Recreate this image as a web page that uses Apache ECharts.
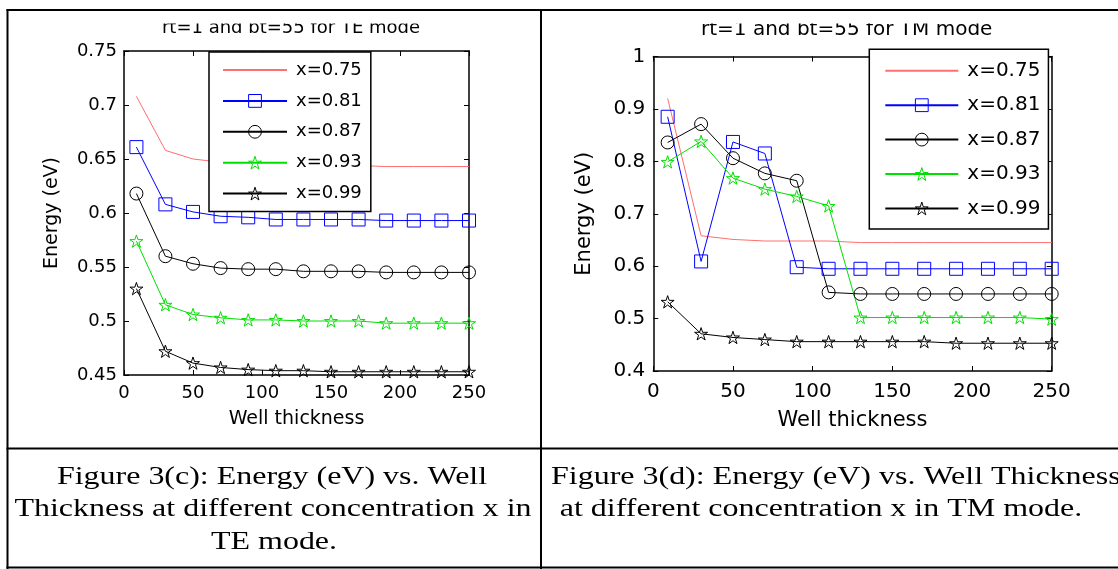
<!DOCTYPE html>
<html><head><meta charset="utf-8">
<script src="https://cdn.jsdelivr.net/npm/echarts@6/dist/echarts.min.js"></script>
<style>html,body{margin:0;padding:0;background:#fff}#c{width:1118px;height:569px}</style>
</head><body><div id="c"></div>
<script>
// ---------------- data ----------------
const wellThickness = [9, 30, 50, 70, 90, 110, 130, 150, 170, 190, 210, 230, 250];
const seriesNames = ['x=0.75', 'x=0.81', 'x=0.87', 'x=0.93', 'x=0.99'];

// TE mode (Figure 3(c))
const teX075 = [0.708, 0.658, 0.650, 0.647, 0.646, 0.645, 0.644, 0.644, 0.644, 0.643, 0.643, 0.643, 0.643];
const teX081 = [0.661, 0.608, 0.601, 0.597, 0.596, 0.594, 0.594, 0.594, 0.594, 0.593, 0.593, 0.593, 0.593];
const teX087 = [0.618, 0.560, 0.553, 0.549, 0.548, 0.548, 0.546, 0.546, 0.546, 0.545, 0.545, 0.545, 0.545];
const teX093 = [0.574, 0.515, 0.506, 0.503, 0.501, 0.501, 0.500, 0.500, 0.500, 0.498, 0.498, 0.498, 0.498];
const teX099 = [0.530, 0.472, 0.461, 0.457, 0.455, 0.454, 0.454, 0.453, 0.453, 0.453, 0.453, 0.453, 0.453];

// TM mode (Figure 3(d))
const tmX075 = [0.920, 0.658, 0.651, 0.648, 0.648, 0.648, 0.645, 0.645, 0.645, 0.645, 0.645, 0.645, 0.645];
const tmX081 = [0.885, 0.609, 0.837, 0.815, 0.598, 0.595, 0.595, 0.595, 0.595, 0.595, 0.595, 0.595, 0.595];
const tmX087 = [0.836, 0.871, 0.806, 0.777, 0.763, 0.550, 0.547, 0.547, 0.547, 0.547, 0.547, 0.547, 0.547];
const tmX093 = [0.799, 0.838, 0.768, 0.747, 0.733, 0.715, 0.502, 0.502, 0.502, 0.502, 0.502, 0.502, 0.499];
const tmX099 = [0.532, 0.471, 0.464, 0.460, 0.456, 0.456, 0.456, 0.456, 0.456, 0.453, 0.453, 0.453, 0.453];

// tick labels
const xTicks = [0, 50, 100, 150, 200, 250];
const teYTicks = [0.45, 0.5, 0.55, 0.6, 0.65, 0.7, 0.75];
const tmYTicks = [0.4, 0.5, 0.6, 0.7, 0.8, 0.9, 1];

// texts
const chartTitles = ['rt=1 and bt=55 for TE mode', 'rt=1 and bt=55 for TM mode'];
const xAxisName = 'Well thickness';
const yAxisName = 'Energy (eV)';
const captionTE = ['Figure 3(c): Energy (eV) vs. Well', 'Thickness at different concentration x in', 'TE mode.'];
const captionTM = ['Figure 3(d): Energy (eV) vs. Well Thickness', 'at different concentration x in TM mode.'];

// ---------------- styles ----------------
const SANS = '"DejaVu Sans"';
const SERIF = '"Liberation Serif"';
const CLEAR = 'rgba(0,0,0,0)';
const STAR = 'path://M50,0L61.23,34.55L97.55,34.55L68.16,55.9L79.39,90.45L50,69.1L20.61,90.45L31.84,55.9L2.45,34.55L38.77,34.55Z';
const seriesStyles = [
  { color: '#ff6f6f', symbol: 'none', size: 0, border: CLEAR },
  { color: '#0000ff', symbol: 'rect', size: 13 },
  { color: '#000000', symbol: 'circle', size: 13 },
  { color: '#00e000', symbol: STAR, size: 13 },
  { color: '#000000', symbol: STAR, size: 13 }
];

function buildSeries(valueSets, axisIdx) {
  return valueSets.map((vals, i) => {
    const st = seriesStyles[i];
    return {
      type: 'line', name: seriesNames[i],
      xAxisIndex: axisIdx, yAxisIndex: axisIdx,
      data: wellThickness.map((x, j) => [x, vals[j]]),
      symbol: st.symbol, symbolSize: st.size, symbolKeepAspect: true,
      showSymbol: st.symbol !== 'none',
      lineStyle: { color: st.color, width: 1 },
      itemStyle: { color: CLEAR, borderColor: st.border || st.color, borderWidth: 1 },
      emphasis: { disabled: true },
      clip: false, animation: false, silent: true
    };
  });
}

function fmt(v) { return String(+v.toFixed(2)); }

function axisPair(gridIndex, ticks, cfg) {
  const base = {
    gridIndex, type: 'value',
    min: ticks[0], max: ticks[ticks.length - 1], interval: +(ticks[1] - ticks[0]).toFixed(4),
    axisLine: { show: true, onZero: false, lineStyle: { color: '#000', width: 1.5 } },
    axisTick: { show: true, inside: true, length: 5, lineStyle: { color: '#000', width: 1 } },
    splitLine: { show: false }
  };
  const main = Object.assign({}, base, {
    position: cfg.mainPos,
    name: cfg.name, nameLocation: 'middle', nameGap: cfg.nameGap,
    nameRotate: cfg.nameRotate || 0,
    nameTextStyle: { fontFamily: SANS, fontSize: cfg.nameSize, color: '#000' },
    axisLabel: { fontFamily: SANS, fontSize: cfg.labelSize, color: '#000', margin: cfg.margin, formatter: fmt }
  });
  const second = Object.assign({}, base, { position: cfg.secPos, axisLabel: { show: false } });
  return [main, second];
}

const tePlot = { left: 124, top: 51, width: 345, height: 324 };
const tmPlot = { left: 653.3, top: 56.5, width: 398.4, height: 314.5 };

const xAxes = [
  ...axisPair(0, xTicks, { mainPos: 'bottom', secPos: 'top', name: xAxisName, nameGap: 35, nameSize: 19, labelSize: 18, margin: 9 }),
  ...axisPair(1, xTicks, { mainPos: 'bottom', secPos: 'top', name: xAxisName, nameGap: 39, nameSize: 21, labelSize: 20, margin: 11 })
];
const yAxes = [
  ...axisPair(0, teYTicks, { mainPos: 'left', secPos: 'right', name: yAxisName, nameGap: 62, nameRotate: 90, nameSize: 19, labelSize: 18, margin: 7 }),
  ...axisPair(1, tmYTicks, { mainPos: 'left', secPos: 'right', name: yAxisName, nameGap: 58, nameRotate: 90, nameSize: 21, labelSize: 20, margin: 8 })
];
// series use axes 0 (TE) and 2 (TM)
const teSeries = buildSeries([teX075, teX081, teX087, teX093, teX099], 0);
const tmSeries = buildSeries([tmX075, tmX081, tmX087, tmX093, tmX099], 2);

function legendCfg(pos, size, gap, pad, itemWidth) {
  return {
    orient: 'vertical', left: pos[0], top: pos[1],
    data: seriesNames.map((n, i) => ({
      name: n,
      itemStyle: { color: CLEAR, borderColor: seriesStyles[i].border || seriesStyles[i].color, borderWidth: 1 }
    })),
    itemWidth: itemWidth, itemHeight: 16, itemGap: gap, padding: pad,
    backgroundColor: '#fff', borderColor: '#000', borderWidth: 1.5, borderRadius: 0,
    selectedMode: false,
    textStyle: { fontFamily: SANS, fontSize: size, color: '#000', lineHeight: size, padding: [0, 0, 0, 4] }
  };
}

function textEl(text, x, y, font, align, z, scaleX) {
  return {
    type: 'text', x: x, y: y, z: z, scaleX: scaleX || 1, silent: true,
    style: { text: text, x: 0, y: 0, font: font, fill: '#000', textAlign: align, align: align, textVerticalAlign: 'middle', verticalAlign: 'middle' }
  };
}
function lineEl(x1, y1, x2, y2, w) {
  return { type: 'line', z: 40, silent: true, shape: { x1, y1, x2, y2 }, style: { stroke: '#000', lineWidth: w } };
}

const capFont = '26px ' + SERIF;
const capScale = 1.23;
const graphics = [
  textEl(chartTitles[0], 291, 28, '18px ' + SANS, 'center', 10),
  textEl(chartTitles[1], 846.7, 29.5, '20px ' + SANS, 'center', 10),
  { type: 'rect', z: 20, silent: true, shape: { x: 9, y: 11, width: 530.5, height: 12.5 }, style: { fill: '#fff' } },
  { type: 'rect', z: 20, silent: true, shape: { x: 542.5, y: 11, width: 580, height: 12.5 }, style: { fill: '#fff' } },
  lineEl(6.5, 10, 1118, 10, 2),
  lineEl(7.5, 9, 7.5, 569, 2),
  lineEl(541, 9, 541, 569, 2),
  lineEl(6.5, 448.5, 1118, 448.5, 2),
  lineEl(6.5, 567.5, 1118, 567.5, 2),
  textEl(captionTE[0], 272, 477, capFont, 'center', 10, capScale),
  textEl(captionTE[1], 273, 509.5, capFont, 'center', 10, capScale),
  textEl(captionTE[2], 274, 542.5, capFont, 'center', 10, capScale),
  textEl(captionTM[0], 551, 477, capFont, 'left', 10, capScale),
  textEl(captionTM[1], 821, 509.5, capFont, 'center', 10, capScale)
];

const chart = echarts.init(document.getElementById('c'), null, { renderer: 'canvas' });
chart.setOption({
  backgroundColor: '#fff',
  animation: false,
  grid: [
    Object.assign({ containLabel: false }, tePlot),
    Object.assign({ containLabel: false }, tmPlot)
  ],
  xAxis: xAxes,
  yAxis: yAxes,
  legend: [
    legendCfg([209, 52], 18, 12.9, [9, 9, 9, 13], 64),
    legendCfg([869.3, 49.3], 20, 14.4, [11.5, 8, 10.5, 15], 73)
  ],
  series: teSeries.concat(tmSeries),
  graphic: { elements: graphics }
});
</script>
</body></html>
